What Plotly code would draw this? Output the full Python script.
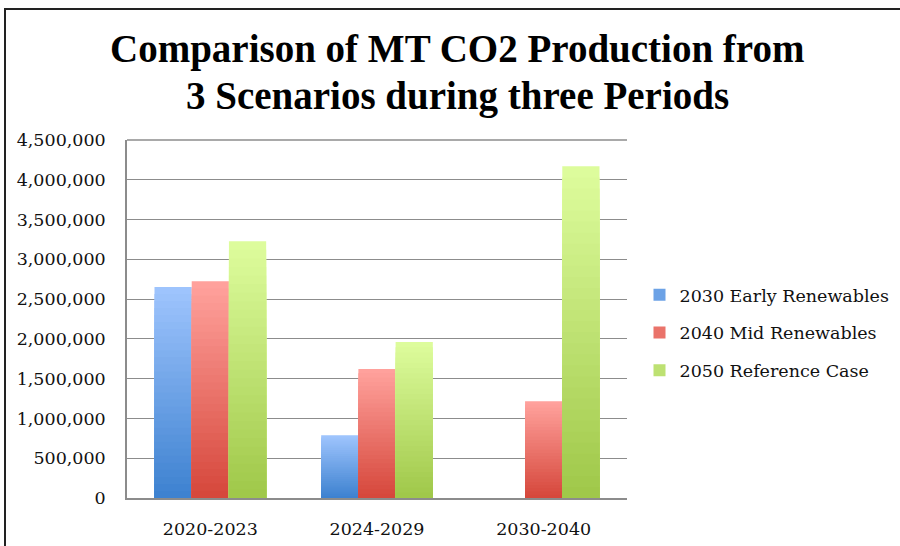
import plotly.graph_objects as go

periods = ["2020-2023", "2024-2029", "2030-2040"]
series_names = ["2030 Early Renewables", "2040 Mid Renewables", "2050 Reference Case"]
early = [2652000, 788000, None]
mid = [2724000, 1621000, 1215000]
reference = [3227000, 1961000, 4169000]
series_values = [early, mid, reference]
y_ticks = [0, 500000, 1000000, 1500000, 2000000, 2500000, 3000000, 3500000, 4000000, 4500000]
title_lines = ["Comparison of MT CO2 Production from", "3 Scenarios during three Periods"]

# gradient (top colour, bottom colour) per series
grad = [((158, 196, 253), (62, 130, 208)),
        ((255, 161, 156), (214, 72, 60)),
        ((221, 252, 156), (160, 200, 74))]
N = 30

fig = go.Figure()
for s, (name, vals) in enumerate(zip(series_names, series_values)):
    top, bot = grad[s]
    for k in range(N):
        f = k / (N - 1)
        c = tuple(round(top[i] + (bot[i] - top[i]) * f) for i in range(3))
        ys = [None if v is None else v * (1 - k / N) for v in vals]
        fig.add_trace(go.Bar(
            x=periods, y=ys, name=name, offsetgroup=str(s), legendgroup=str(s),
            showlegend=(k == N // 2),
            marker=dict(color="rgb(%d,%d,%d)" % c, line=dict(width=0)),
            hoverinfo="skip" if k else "x+y+name",
        ))

font = "DejaVu Serif"
L, T, PW, PH = 127, 140, 500, 358
fig.update_layout(
    width=900, height=546,
    margin=dict(l=L, r=900 - L - PW, t=T, b=546 - T - PH, autoexpand=False),
    paper_bgcolor="white", plot_bgcolor="white",
    barmode="group", bargap=0.33, bargroupgap=0,
    font=dict(family=font, size=17.5, color="#111"),
    showlegend=True,
    legend=dict(x=1.025, y=0.461, xanchor="left", yanchor="middle",
                font=dict(family=font, size=17.5, color="#111"),
                tracegroupgap=12, bgcolor="rgba(0,0,0,0)"),
    xaxis=dict(type="category", showline=True, linecolor="#8c8c8c", linewidth=1.5,
               showgrid=False, ticks="", tickfont=dict(size=17.5), ticklabelstandoff=14,
               automargin=False),
    yaxis=dict(range=[0, 4500000], tickvals=y_ticks, tickformat=",d",
               showgrid=True, gridcolor="#8c8c8c", gridwidth=1.3,
               showline=True, linecolor="#8c8c8c", linewidth=1.5,
               zeroline=False, ticks="", ticklen=0, tickfont=dict(size=17.5),
               ticklabelstandoff=16, automargin=False),
    shapes=[dict(type="rect", xref="paper", yref="paper",
                 x0=(5 - L) / PW, x1=(910 - L) / PW,
                 y0=(T + PH - 570) / PH, y1=(T + PH - 9) / PH,
                 line=dict(color="#222", width=2), fillcolor="rgba(0,0,0,0)", layer="below"),
            dict(type="line", xref="paper", yref="paper", x0=0, x1=1, y0=1, y1=1,
                 line=dict(color="#8c8c8c", width=1.3))],
    annotations=[dict(text="<b>%s</b>" % txt,
                      xref="paper", yref="paper", x=(457 - L) / PW, y=(T + PH - yc) / PH,
                      xanchor="center", yanchor="middle", showarrow=False,
                      font=dict(family="Liberation Serif", size=39, color="#000"))
                 for txt, yc in zip(title_lines, [49, 96])],
)

fig.write_html("out.html", config={"displayModeBar": False},
               post_script="document.body.style.margin='0';")
